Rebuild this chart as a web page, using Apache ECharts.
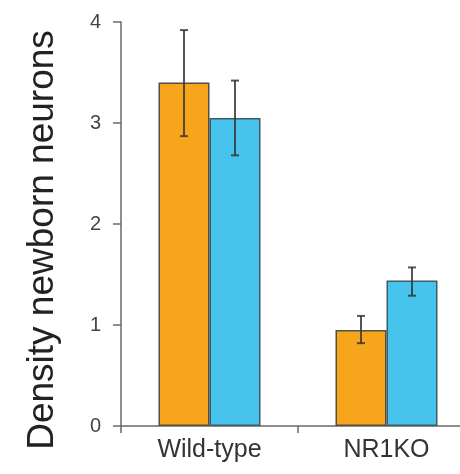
<!DOCTYPE html>
<html>
<head>
<meta charset="utf-8">
<script src="https://cdn.jsdelivr.net/npm/echarts@6/dist/echarts.min.js"></script>
<style>
  html, body { margin: 0; padding: 0; background: #fff; }
  #chart { width: 460px; height: 474px; }
</style>
</head>
<body>
<div id="chart"></div>
<script>
// Genotype groups on the x axis
const categories = ['Wild-type', 'NR1KO'];
// Mean density of newborn neurons per group (orange and blue conditions)
const orangeValues = [3.40, 0.95];
const blueValues = [3.05, 1.44];
// Error bar extents (lower, upper)
const orangeLow = [2.87, 0.82];
const orangeHigh = [3.92, 1.09];
const blueLow = [2.68, 1.29];
const blueHigh = [3.42, 1.57];
// Y axis tick range
const yMin = 0, yMax = 4, yStep = 1;

const BAR_W = 51;
const FONT = '"Liberation Sans", Arial, Helvetica, sans-serif';

function errorSeries(low, high, offset) {
  const data = categories.map((c, i) => [i, low[i], high[i]]);
  return {
    type: 'custom',
    z: 5,
    data: data,
    encode: { x: 0, y: [1, 2] },
    renderItem: function (params, api) {
      const i = api.value(0);
      const lo = api.coord([i, api.value(1)]);
      const hi = api.coord([i, api.value(2)]);
      const x = lo[0] + offset;
      const cap = 4;
      const style = { stroke: 'rgba(55,55,55,0.85)', lineWidth: 2 };
      return {
        type: 'group',
        children: [
          { type: 'line', shape: { x1: x, y1: hi[1], x2: x, y2: lo[1] }, style: style },
          { type: 'line', shape: { x1: x - cap, y1: hi[1], x2: x + cap, y2: hi[1] }, style: style },
          { type: 'line', shape: { x1: x - cap, y1: lo[1], x2: x + cap, y2: lo[1] }, style: style }
        ]
      };
    }
  };
}

const chart = echarts.init(document.getElementById('chart'), null, { renderer: 'canvas' });
chart.setOption({
  animation: false,
  backgroundColor: '#ffffff',
  grid: { left: 121, top: 22, bottom: 48, width: 354, containLabel: false, outerBoundsMode: 'none' },
  xAxis: {
    type: 'category',
    data: categories,
    axisLine: { lineStyle: { color: '#6a6a6a', width: 1.5 } },
    axisTick: { show: true, length: 7, alignWithLabel: false, lineStyle: { color: '#6a6a6a', width: 1.5 } },
    axisLabel: { color: '#333', fontSize: 25, fontFamily: FONT, margin: 12 }
  },
  yAxis: {
    type: 'value',
    min: yMin, max: yMax, interval: yStep,
    name: 'Density newborn neurons',
    nameLocation: 'middle',
    nameGap: 60,
    nameMoveOverlap: false,
    nameTextStyle: { color: '#222', fontSize: 37, fontFamily: FONT, padding: [0, 32, 0, 0] },
    axisLine: { show: true, lineStyle: { color: '#6a6a6a', width: 1.5 } },
    axisTick: { show: true, length: 8, lineStyle: { color: '#6a6a6a', width: 1.5 } },
    axisLabel: { color: '#444', fontSize: 20, fontFamily: FONT, margin: 20 },
    splitLine: { show: false }
  },
  series: [
    {
      type: 'bar', data: orangeValues, barWidth: BAR_W, barGap: '0%',
      itemStyle: { color: '#F7A61C', borderColor: '#4f4f45', borderWidth: 1.5 }
    },
    {
      type: 'bar', data: blueValues, barWidth: BAR_W, barGap: '0%',
      itemStyle: { color: '#46C4EE', borderColor: '#3f5a63', borderWidth: 1.5 }
    },
    errorSeries(orangeLow, orangeHigh, -BAR_W / 2),
    errorSeries(blueLow, blueHigh, BAR_W / 2)
  ]
});
</script>
</body>
</html>
